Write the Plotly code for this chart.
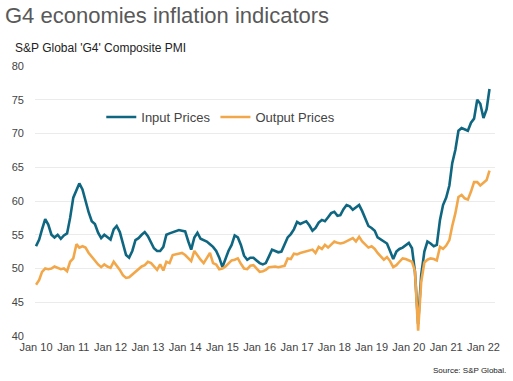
import plotly.graph_objects as go
import pandas as pd

dates = pd.date_range("2010-01-01", "2022-03-01", freq="MS")

input_prices = [
    53.3, 54.3, 55.8, 57.3, 56.5, 55.0, 54.6, 55.0, 54.4, 54.9, 55.2, 57.5,
    60.5, 61.5, 62.6, 61.7, 59.8, 58.3, 57.0, 56.6, 55.3, 54.5, 55.0, 54.7,
    54.3, 55.8, 56.3, 55.4, 53.5, 52.0, 51.6, 52.6, 54.2, 54.5, 55.0, 55.4,
    54.8, 53.8, 53.0, 52.6, 52.6, 53.2, 55.0, 55.2, 55.4, 55.6, 55.7, 55.6,
    55.5, 54.0, 52.8, 54.6, 55.3, 54.4, 54.2, 54.0, 53.6, 53.2, 52.6, 51.6,
    50.2, 51.6, 52.6, 53.5, 54.9, 54.6, 53.5, 51.9, 51.3, 51.6, 51.6, 51.2,
    50.8, 50.6, 50.8, 51.8, 52.8, 52.6, 52.4, 52.5, 53.5, 54.6, 55.1, 55.8,
    56.9, 56.6, 56.8, 57.0, 56.4, 55.6, 56.0, 56.8, 57.2, 57.0, 57.6, 58.2,
    58.4, 57.8, 57.9, 58.8, 59.4, 59.2, 58.7, 59.0, 59.4, 58.5, 57.4, 56.3,
    56.0, 55.6, 54.6, 54.3, 54.0, 53.7, 52.6, 51.4, 52.5, 52.9, 53.1, 53.4,
    53.8, 53.0, 49.5, 41.8, 49.0, 52.5, 54.0, 53.7, 53.3, 53.5, 57.2, 59.4,
    60.5, 62.3, 65.6, 67.6, 70.4, 70.8, 70.6, 70.4, 71.6, 72.2, 75.0, 74.4,
    72.3, 73.6, 76.6,
]

output_prices = [
    47.6, 48.3, 49.5, 50.0, 49.9, 50.0, 50.3, 50.1, 49.9, 50.0, 49.6, 51.0,
    51.5, 53.6, 53.1, 53.3, 53.1, 52.3, 51.7, 51.2, 50.6, 50.2, 50.6, 50.3,
    50.1, 51.0, 50.5, 49.8, 49.0, 48.6, 48.7, 49.1, 49.5, 49.9, 50.3, 50.5,
    51.0, 50.8, 50.3, 49.8, 50.6, 49.7, 51.0, 50.8, 52.0, 52.1, 52.1, 52.3,
    52.0, 51.6, 51.1, 52.6, 51.9, 51.3, 50.8, 51.5, 52.3, 50.8, 50.6, 49.9,
    50.0, 50.3, 50.8, 51.2, 51.3, 51.5, 50.7, 50.0, 49.9, 50.4, 50.5, 50.0,
    49.5, 49.6, 49.8, 50.2, 50.3, 50.3, 50.2, 50.3, 50.4, 51.5, 51.4, 52.2,
    52.1, 52.3, 52.4, 52.5, 52.7, 52.8, 52.3, 53.2, 52.9, 53.5, 53.1, 53.5,
    54.0, 53.8, 53.7, 53.8, 54.0, 54.3, 54.5, 54.0, 54.7, 54.0, 53.5, 53.1,
    53.3, 52.9, 52.3, 51.7, 51.3, 51.7, 51.1, 50.2, 50.5, 51.0, 51.5, 51.4,
    51.2, 51.0, 49.6, 40.8, 48.0, 50.9, 51.3, 51.5, 51.4, 51.2, 53.2, 52.9,
    53.4, 54.2, 56.3, 58.2, 60.6, 60.9, 60.4, 60.2, 61.4, 62.8, 62.8, 62.3,
    62.7, 63.1, 64.5,
]

y_ticks = [40, 45, 50, 55, 60, 65, 70, 75, 80]

TEAL = "#0f6680"
ORANGE = "#f2a84a"
FONT = "Liberation Sans"

fig = go.Figure()
fig.add_trace(go.Scatter(x=dates, y=input_prices, mode="lines", name="Input Prices",
                         line=dict(color=TEAL, width=2.6)))
fig.add_trace(go.Scatter(x=dates, y=output_prices, mode="lines", name="Output Prices",
                         line=dict(color=ORANGE, width=2.6)))

fig.add_shape(type="line", xref="paper", yref="y", x0=0, x1=1, y0=50, y1=50,
              line=dict(color="#333333", width=1.2), layer="below")

fig.update_layout(
    width=513, height=381,
    margin=dict(l=30, r=18, t=66, b=45),
    paper_bgcolor="white", plot_bgcolor="white",
    font=dict(family=FONT, size=11, color="#444444"),
    title=dict(text="G4 economies inflation indicators", xref="container", x=5 / 513,
               xanchor="left", yref="container", y=1 - 15 / 381, yanchor="middle",
               font=dict(family=FONT, size=22, color="#595959")),
    showlegend=True,
    legend=dict(orientation="h", x=(97 - 30) / 465, xanchor="left",
                y=(336 - 117) / 270, yanchor="middle",
                font=dict(family=FONT, size=13, color="#444444"),
                bgcolor="rgba(0,0,0,0)", itemwidth=30, tracegroupgap=0),
    xaxis=dict(type="date", range=["2009-12-22", "2022-04-24"],
               tick0="2010-01-01", dtick="M12", tickformat="%b %y",
               showgrid=False, zeroline=False, showline=False, ticks="",
               ticklabelstandoff=3,
               tickfont=dict(family=FONT, size=11, color="#444444")),
    yaxis=dict(range=[40, 80], tickvals=y_ticks, showgrid=True, gridcolor="#ebebeb",
               gridwidth=1, zeroline=False, showline=False, ticks="",
               ticklabelstandoff=10,
               tickfont=dict(family=FONT, size=11, color="#444444")),
    annotations=[
        dict(text="S&P Global 'G4' Composite PMI", xref="paper", yref="paper",
             x=(8 - 30) / 465, y=(336 - 48) / 270, xanchor="left", yanchor="middle",
             showarrow=False, font=dict(family=FONT, size=12, color="#222222")),
        dict(text="Source: S&P Global.", xref="paper", yref="paper",
             x=(508 - 30) / 465, y=(336 - 370) / 270, xanchor="right", yanchor="middle",
             showarrow=False, font=dict(family=FONT, size=8, color="#222222")),
    ],
)

fig.write_html("out.html", config={"displayModeBar": False},
               post_script="document.body.style.margin='0';")
